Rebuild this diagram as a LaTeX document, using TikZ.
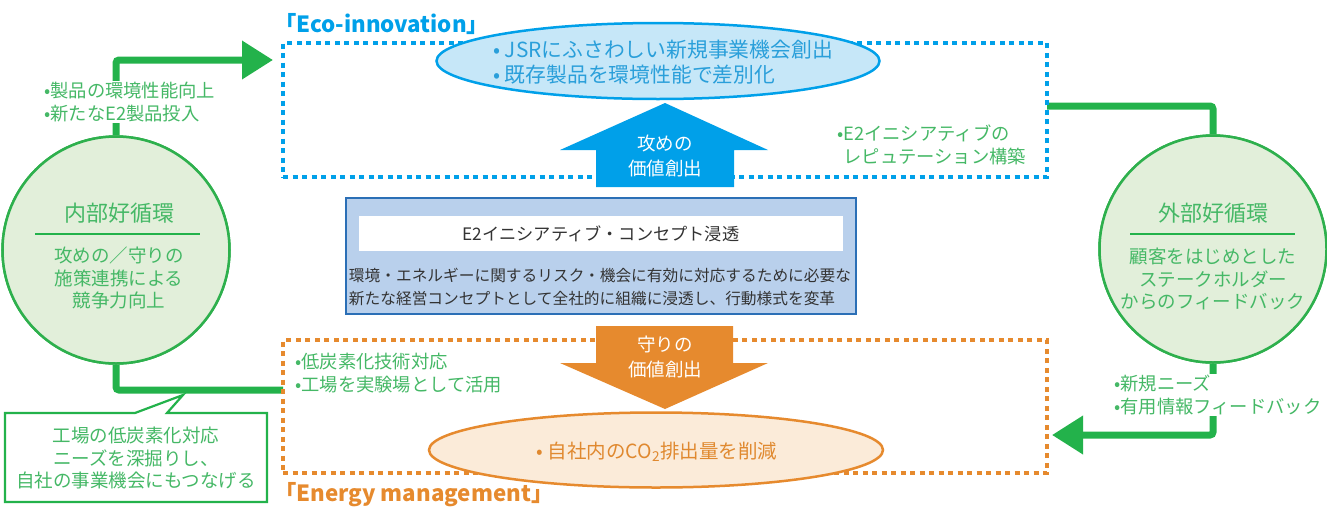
\documentclass[tikz,border=0pt]{standalone}
\usepackage{fontspec}
\setmainfont{Noto Sans CJK JP}
\usetikzlibrary{arrows.meta,shapes.geometric}
\definecolor{ecoBlue}{HTML}{00A0E9}
\definecolor{ellBlueFill}{HTML}{C6E7F8}
\definecolor{ellBlueText}{HTML}{2A9FDA}
\definecolor{enOrange}{HTML}{E68A2E}
\definecolor{orangeFill}{HTML}{FBEBD9}
\definecolor{orangeText}{HTML}{E0892F}
\definecolor{gLine}{HTML}{23B24B}
\definecolor{gText}{HTML}{45B866}
\definecolor{circFill}{HTML}{E2EFDA}
\definecolor{circLine}{HTML}{2EB04D}
\definecolor{boxFill}{HTML}{B9D0EC}
\definecolor{boxLine}{HTML}{2B6FB6}
\definecolor{darkText}{HTML}{333333}
\newcommand{\fs}[2]{\fontsize{#1}{#2}\selectfont}
\begin{document}
\begin{tikzpicture}[x=1pt,y=-1pt,
  dotrect/.style={draw, line width=3.5pt, dash pattern=on 5pt off 4.5pt, minimum width=764pt, inner sep=0pt},
  circnode/.style={circle, draw=circLine, fill=circFill, line width=2.5pt, minimum size=227pt, inner sep=0pt},
  circtitle/.style={text=gText, font=\fs{22}{26}, inner sep=0pt},
  circbody/.style={text=gText, font=\fs{18.5}{22.5}, align=center, inner sep=0pt},
  gtxt/.style={text=gText, font=\fs{18.3}{23}, align=left, inner sep=1pt},
  gconn/.style={draw=gLine, line width=7pt, rounded corners=3pt},
  garrow/.style={gconn, -{Triangle[length=31pt,width=37pt]}},
  arrtxt/.style={text=white, font=\fs{18.5}{25}, align=center, inner sep=0pt},
  title/.style={font=\bfseries\fs{22.3}{22.3}, anchor=west, inner sep=0pt}
]
\useasboundingbox (0,0) rectangle (1327,509);

% connectors (drawn first, under everything)
\node[circnode] (inner) at (116,250) {};
\node[circnode] (outer) at (1213,249) {};
\coordinate (ecoIn) at (273,60);
\coordinate (ecoOut) at (1047,106);
\coordinate (enIn) at (1052,435);
\coordinate (enOut) at (283,390);
\draw[garrow] (inner.north) |- (ecoIn);
\draw[gconn] (ecoOut) -| (outer.north);
\draw[garrow] (outer.south) |- (enIn);
\draw[gconn] (inner.south) |- (enOut);

% circles again on top of connector ends
\node[circnode] at (inner) {};
\node[circnode] at (outer) {};
\node[circtitle] (innerT) at (119,213) {内部好循環};
\draw[draw=gLine, line width=2pt] (35,234) -- (200,234);
\node[circbody] (innerB) at (119,278) {攻めの／守りの\\施策連携による\\競争力向上};
\node[circtitle] (outerT) at (1213,213) {外部好循環};
\draw[draw=gLine, line width=2pt] (1130,234) -- (1295,234);
\node[circbody] (outerB) at (1213,279) {顧客をはじめとした\\ステークホルダー\\からのフィードバック};

% labels on connectors
\node[gtxt, fill=white, anchor=west] (lblTL) at (43,102) {•製品の環境性能向上\\•新たなE2製品投入};
\node[gtxt, fill=white, anchor=west] (lblBR) at (1113,395) {•新規ニーズ\\•有用情報フィードバック};

% Eco-innovation area
\node[dotrect, draw=ecoBlue, minimum height=134pt] (eco) at (665,110) {};
\node[title, text=ecoBlue] (ecoT) at (274,24) {「Eco-innovation」};
\node[ellipse, draw=ecoBlue, fill=ellBlueFill, line width=2.5pt, minimum width=443pt, minimum height=76pt, inner sep=0pt] (ecoEll) at (658,61) {};
\node[anchor=west, text=ellBlueText, font=\fs{20.8}{25}, align=left, inner sep=0pt] (ecoEllT) at (493,62) {• JSRにふさわしい新規事業機会創出\\• 既存製品を環境性能で差別化};
\fill[ecoBlue] (596,187) -- (596,150) -- (560,150) -- (665,103) -- (768,150) -- (734,150) -- (734,187) -- cycle;
\node[arrtxt] (attack) at (665,156) {攻めの\\価値創出};
\node[gtxt, anchor=west] (repu) at (836,145) {•E2イニシアティブの\\\phantom{•}レピュテーション構築};

% central concept box
\node[draw=boxLine, fill=boxFill, line width=2pt, minimum width=510pt, minimum height=116pt, inner sep=0pt] (concept) at (601,256) {};
\node[fill=white, minimum width=484pt, minimum height=35pt, inner sep=0pt, text=darkText, font=\fs{17.2}{20}] (conceptT) at (601,233.5) {E2イニシアティブ・コンセプト浸透};
\node[text=darkText, font=\fs{15.7}{23}, align=left, inner sep=0pt] (conceptB) at (600,287) {環境・エネルギーに関するリスク・機会に有効に対応するために必要な\\新たな経営コンセプトとして全社的に組織に浸透し、行動様式を変革};

% Energy management area
\node[dotrect, draw=enOrange, minimum height=133pt] (energy) at (665,406.5) {};
\node[title, text=enOrange] (enT) at (274,495) {「Energy management」};
\node[gtxt, anchor=west] (lowc) at (294,373) {•低炭素化技術対応\\•工場を実験場として活用};
\fill[enOrange] (596,326) -- (733,326) -- (733,363) -- (768,363) -- (665,409) -- (560,363) -- (596,363) -- cycle;
\node[arrtxt] (defend) at (665,357) {守りの\\価値創出};
\node[ellipse, draw=enOrange, fill=orangeFill, line width=2.5pt, minimum width=454pt, minimum height=75pt, inner sep=0pt] (enEll) at (656,450) {};
\node[text=orangeText, font=\fs{19.5}{24}, inner sep=0pt] (enEllT) at (657,452) {• 自社内のCO\textsubscript{2}排出量を削減};

% callout
\draw[draw=gLine, fill=white, line width=2.2pt] (5,413) -- (135,413) -- (183,395) -- (167,413) -- (267,413) -- (267,502) -- (5,502) -- cycle;
\node[text=gText, font=\fs{18.5}{22.5}, align=center, inner sep=0pt] (callout) at (136,458) {工場の低炭素化対応\\ニーズを深掘りし、\\自社の事業機会にもつなげる};
\end{tikzpicture}
\end{document}
